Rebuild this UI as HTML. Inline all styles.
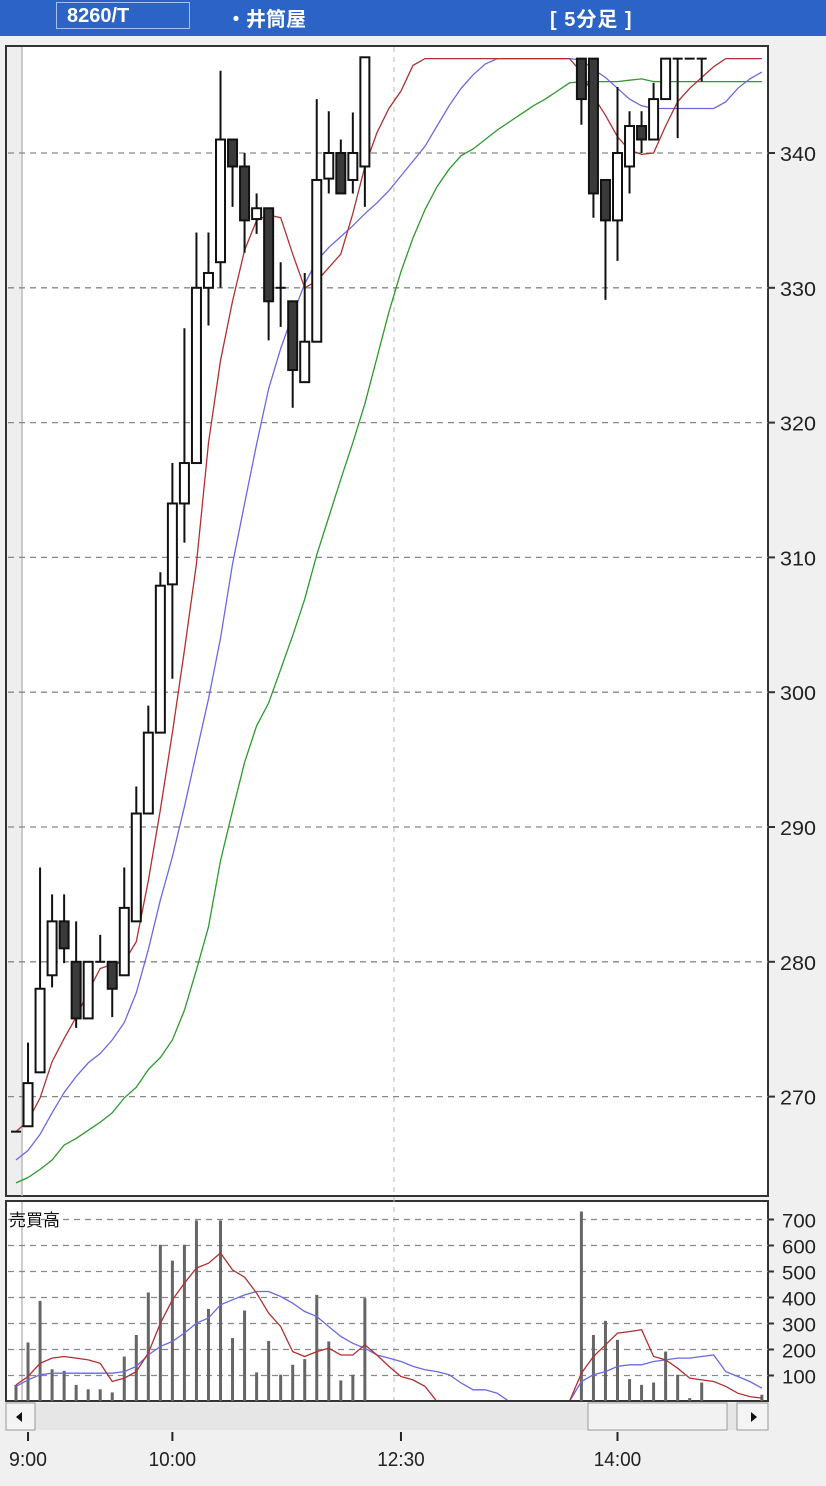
<!DOCTYPE html>
<html><head><meta charset="utf-8">
<style>
html,body{margin:0;padding:0;background:#f0f0f0;}
body{width:826px;height:1486px;overflow:hidden;position:relative;font-family:"Liberation Sans","Noto Sans CJK JP",sans-serif;}
#hdr{position:absolute;left:0;top:0;width:826px;height:36px;background:#2b63c6;}
#code{position:absolute;left:56px;top:2px;width:134px;height:27px;border:1px solid #a8c0ee;color:#fff;font-size:20px;font-weight:bold;line-height:27px;padding-left:10px;box-sizing:border-box;}
#name{position:absolute;left:226px;top:3px;color:#fff;font-size:20px;font-weight:bold;}
#period{position:absolute;left:550px;top:3px;color:#fff;font-size:20px;font-weight:bold;letter-spacing:1px;}
svg{position:absolute;left:0;top:0;}
</style></head>
<body>
<div id="hdr">
  <div id="code">8260/T</div>
  <div id="name">・井筒屋</div>
  <div id="period">[ 5分足 ]</div>
</div>
<svg id="chart" width="826" height="1486"></svg>
<script>
// ---- data ----
const priceTicks = [270,280,290,300,310,320,330,340];
const volTicks = [100,200,300,400,500,600,700];
const timeLabels = ["9:00","10:00","12:30","14:00"];
const timeIdx = [1,13,32,50];
const candleIdx = [0,1,2,3,4,5,6,7,8,9,10,11,12,13,14,15,16,17,18,19,20,21,22,23,24,25,26,27,28,29,47,48,49,50,51,52,53,54,55,56,57];
const opens  = [267.4,267.8,271.8,279,283,280,275.8,280,280,279,283,291,297,308,314,317,330,331.9,341,339,335.1,335.9,330,329,323,326,338.1,340,338,339,347,347,338,335,339,342,341,344,347,347,347];
const closes = [267.4,271,278,283,281,275.8,280,280,278,284,291,297,307.9,314,317,330,331.1,341,339,335,335.9,329,330,323.9,326,338,340,337,340,347.1,344,337,335,340,342,341,344,347,347,347,347];
const highs  = [267.4,274,287,285,285,283,280,282,280,287,293,299,308.9,317,327,334.1,334.1,346.1,341,340,337,335.9,331.9,329,331.1,344,343.1,341,343,347.1,347,347,338,344.9,343.1,343.1,345.2,347,347,347,347];
const lows   = [267.4,267.8,271.8,278.1,279.9,275.1,275.8,280,275.9,279,283,291,297,301,311.1,317,327.2,330,336,332.6,334,326.1,327.1,321.1,323,326,337,337,337,336,342.1,335.2,329.1,332,337,340,341,344,341.1,347,345.3];
const maShort = [267.4,268.2,269.9,272.6,274.3,275.9,277.8,279.5,279.8,280,281.5,286,291.3,297,303.1,309.5,318.5,324.6,329,332.8,335,335.4,335.2,332.5,330,330.5,331.5,332.5,335.5,339,341.5,343.3,344.6,346.5,347,347,347,347,347,347,347,347,347,347,347,347,347,346,344.2,342.8,341.2,340.2,339.9,340,342,343.8,344.8,345.6,346.4,347,347,347,347];
const maMid = [265.3,266,267.2,268.8,270.3,271.5,272.5,273.2,274.2,275.5,277.7,280.9,284.6,287.8,291.5,295.5,299.5,304,309.5,314,318.4,322.5,325.5,328,330.3,332,333,333.8,334.6,335.5,336.3,337.2,338.3,339.4,340.5,342,343.5,344.8,345.8,346.6,347,347,347,347,347,347,347,346.9,346.2,345.6,344.8,344,343.5,343.3,343.3,343.3,343.3,343.3,343.3,343.8,344.8,345.5,346];
const maLong = [263.6,264,264.6,265.3,266.4,266.9,267.5,268.1,268.8,269.9,270.7,272,272.9,274.2,276.4,279.4,282.6,287.5,291.2,294.8,297.5,299.2,301.7,304.2,306.9,310.2,313,315.8,318.5,321.4,324.8,328.2,331.2,333.7,335.8,337.5,338.8,339.8,340.3,341,341.7,342.3,342.9,343.5,344,344.6,345.2,345.3,345.3,345.3,345.3,345.4,345.5,345.3,345.3,345.3,345.3,345.3,345.3,345.3,345.3,345.3,345.3];
const volIdx = [0,1,2,3,4,5,6,7,8,9,10,11,12,13,14,15,16,17,18,19,20,21,22,23,24,25,26,27,28,29,47,48,49,50,51,52,53,54,55,56,57,62];
const volumes = [64,227,387,124,118,64,47,47,35,173,256,419,603,542,603,696,356,696,244,350,112,233,103,141,163,410,231,81,103,397,731,256,310,237,86,64,73,192,103,13,73,26];
const volMaShortAM = [64,96,147,167,173,167,160,147,77,90,115,186,301,391,455,513,532,571,506,478,417,340,288,192,173,192,205,179,179,218,179,135,96,83,58,0];
const volMaShortPM = [0,109,173,218,263,269,276,173,160,128,90,83,77,58,32,19,13];
const volMaMidAM = [58,83,103,109,109,109,109,109,109,115,135,179,212,231,263,301,321,372,391,410,423,423,404,378,346,327,288,250,224,205,179,167,154,135,122,115,103,71,45,45,32,0];
const volMaMidPM = [0,77,103,115,135,141,141,154,160,167,167,173,179,115,96,77,51];
const pmStart = 46;

// ---- geometry ----
const NS="http://www.w3.org/2000/svg";
const svg=document.getElementById('chart');
const X0=16, DX=12.03;
const px=i=>X0+DX*i;
const py=p=>153+(340-p)*13.48;
const vy=v=>1401.5-v*0.26;
function el(tag,attrs,parent){const e=document.createElementNS(NS,tag);for(const k in attrs)e.setAttribute(k,attrs[k]);(parent||svg).appendChild(e);return e;}

// panels
const main=el('rect',{x:6,y:46,width:762,height:1150,fill:'#fff',stroke:'#333','stroke-width':2});


el('rect',{x:7,y:47,width:15,height:1148,fill:'#eeeeee'});
el('line',{x1:22,y1:47,x2:22,y2:1196,stroke:'#bbb','stroke-width':1.5});
const vp=el('rect',{x:6,y:1201,width:762,height:200,fill:'#fff',stroke:'#333','stroke-width':2});


el('line',{x1:22,y1:1202,x2:22,y2:1400,stroke:'#bbb','stroke-width':1.5});

// session divider
el('line',{x1:394,y1:47,x2:394,y2:1400,stroke:'#bbb','stroke-width':1,'stroke-dasharray':'5,5'});

// price grid + labels
priceTicks.forEach(t=>{
  const y=py(t);
  const g=el('line',{x1:8,y1:y,x2:768,y2:y,stroke:'#888','stroke-width':1.3,'stroke-dasharray':'6,5'});
  
  
  el('line',{x1:768,y1:y,x2:775,y2:y,stroke:'#333','stroke-width':2});
  const tx=el('text',{x:780,y:y+8,'font-size':20,fill:'#222',textLength:36,lengthAdjust:'spacingAndGlyphs'});
  tx.textContent=t;
  
  
});
// volume grid + labels
volTicks.forEach(t=>{
  const y=vy(t);
  const g=el('line',{x1:8,y1:y,x2:768,y2:y,stroke:'#888','stroke-width':1.3,'stroke-dasharray':'6,5'});
  
  
  el('line',{x1:768,y1:y,x2:774,y2:y,stroke:'#333','stroke-width':2});
  const tx=el('text',{x:782,y:y+8,'font-size':19,fill:'#222',textLength:34,lengthAdjust:'spacingAndGlyphs'});
  tx.textContent=t;
  
  
});
const vt=el('text',{x:9,y:1226,'font-size':17,fill:'#111','font-family':'"Liberation Sans","Noto Sans CJK JP",sans-serif'});
vt.textContent='売買高';



// volume bars
volIdx.forEach((i,k)=>{
  const b=el('line',{x1:px(i),y1:1401,x2:px(i),y2:vy(volumes[k]),stroke:'#666','stroke-width':3});
  
  
});

function line(vals,start,yf,color,name,clip){
  const pts=vals.map((v,k)=>px(start+k).toFixed(1)+','+yf(v).toFixed(1)).join(' ');
  const l=el('polyline',{points:pts,fill:'none',stroke:color,'stroke-width':1.3});
  if(clip)l.setAttribute('clip-path','url(#vclip)');
  
  
}
const defs=el('defs',{});
const cp=el('clipPath',{id:'vclip'},defs);
el('rect',{x:7,y:1202,width:760,height:198},cp);
const cp2=el('clipPath',{id:'mclip'},defs);

line(volMaMidAM,0,vy,'#6a6ae0','volume-ma-long-am',true);
line(volMaMidPM,pmStart,vy,'#6a6ae0','volume-ma-long-pm',true);
line(volMaShortAM,0,vy,'#b03030','volume-ma-short-am',true);
line(volMaShortPM,pmStart,vy,'#b03030','volume-ma-short-pm',true);

// price MAs
line(maLong,0,py,'#2e9a2e','ma-long');
line(maMid,0,py,'#6a6ae0','ma-mid');
line(maShort,0,py,'#b03030','ma-short');

// candles
candleIdx.forEach((i,k)=>{
  const x=px(i),o=opens[k],c=closes[k],h=highs[k],l=lows[k];
  const w=el('line',{x1:x,y1:py(h),x2:x,y2:py(l),stroke:'#111','stroke-width':2});
  
  
  const top=py(Math.max(o,c)),bot=py(Math.min(o,c));
  if(bot-top<1.5){
    const d=el('line',{x1:x-5,y1:top,x2:x+5,y2:top,stroke:'#111','stroke-width':2});
    
    
  } else {
    const r=el('rect',{x:x-4.5,y:top,width:9,height:bot-top,fill:c>=o?'#fff':'#3a3a3a',stroke:'#111','stroke-width':2});
    
    
  }
});

// scrollbar
const sb=el('rect',{x:6,y:1403,width:762,height:27,fill:'#e6e6e6'});


const lb=el('rect',{x:6,y:1403,width:29,height:27,fill:'#f4f4f4',stroke:'#999','stroke-width':1});


el('path',{d:'M16,1417 L22,1412 L22,1422 Z',fill:'#111'});
const th=el('rect',{x:588,y:1403,width:139,height:27,fill:'#f2f2f2',stroke:'#999','stroke-width':1});


const rb=el('rect',{x:737,y:1403,width:31,height:27,fill:'#f4f4f4',stroke:'#999','stroke-width':1});


el('path',{d:'M757,1417 L751,1412 L751,1422 Z',fill:'#111'});

// time axis
timeLabels.forEach((t,k)=>{
  const x=px(timeIdx[k]);
  el('line',{x1:x,y1:1432,x2:x,y2:1441,stroke:'#222','stroke-width':2});
  const tx=el('text',{x:x,y:1466,'font-size':20,fill:'#222','text-anchor':'middle',textLength:t.length*9.5,lengthAdjust:'spacingAndGlyphs'});
  tx.textContent=t;
  
  
});
</script>
</body></html>
